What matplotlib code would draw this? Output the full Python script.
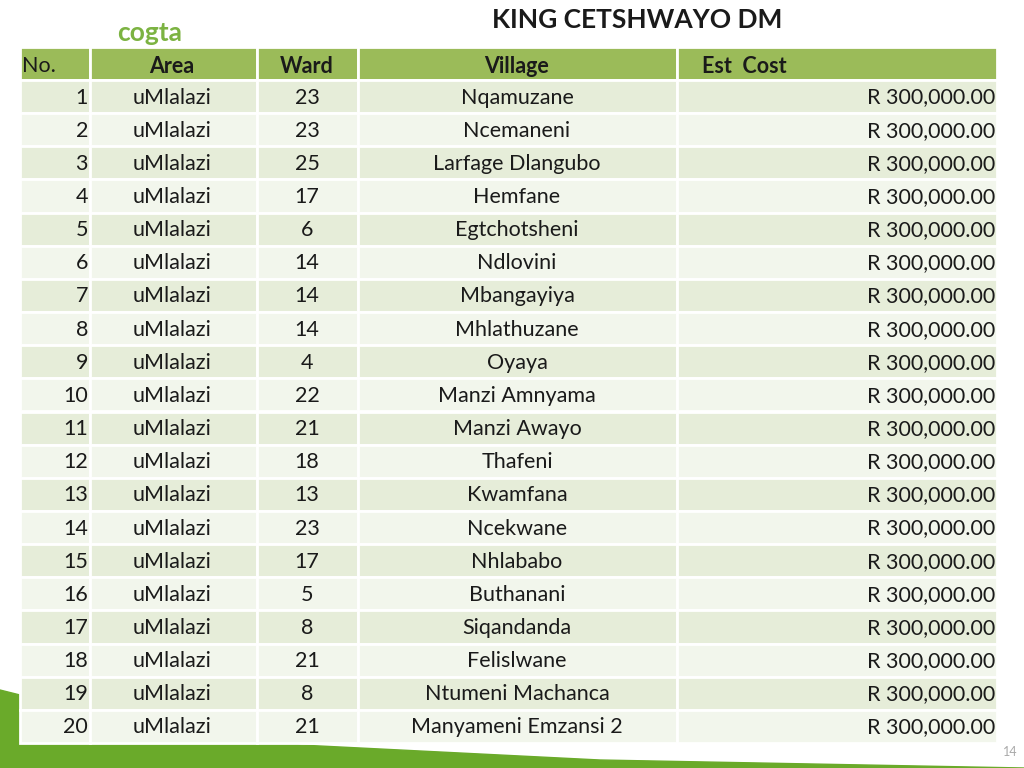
import matplotlib
matplotlib.use("Agg")
import matplotlib.pyplot as plt
from matplotlib.patches import Rectangle, Polygon

TITLE = "KING CETSHWAYO DM"
HEADERS = ["No.", "Area", "Ward", "Village", "Est  Cost"]
NUMS = list(range(1, 21))
AREAS = ["uMlalazi"] * 20
WARDS = [23, 23, 25, 17, 6, 14, 14, 14, 4, 22, 21, 18, 13, 23, 17, 5, 8, 21, 8, 21]
VILLAGES = ["Nqamuzane", "Ncemaneni", "Larfage Dlangubo", "Hemfane", "Egtchotsheni",
            "Ndlovini", "Mbangayiya", "Mhlathuzane", "Oyaya", "Manzi Amnyama",
            "Manzi Awayo", "Thafeni", "Kwamfana", "Ncekwane", "Nhlababo",
            "Buthanani", "Siqandanda", "Felislwane", "Ntumeni Machanca",
            "Manyameni Emzansi 2"]
COSTS = [300000.00] * 20

HDR = "#9BBB59"
ROW_A = "#E6EDD9"
ROW_B = "#F2F6EC"
TXT = "#1a1a1a"

plt.rcParams["font.family"] = "Lato"
fig = plt.figure(figsize=(10.24, 7.68), dpi=100)
ax = fig.add_axes([0, 0, 1, 1])
ax.set_xlim(0, 1024)
ax.set_ylim(768, 0)
ax.axis("off")

# bottom swoosh
ax.add_patch(Polygon([(0, 690), (120, 720), (300, 745), (600, 760), (1024, 768), (0, 768)],
                     color="#6aaa2a", zorder=0))

cols = [20, 90, 257, 358, 677, 997]
top, hh, rh = 47, 33, 33.15

for i in range(5):
    ax.add_patch(Rectangle((cols[i], top), cols[i + 1] - cols[i], hh, fc=HDR, ec="white", lw=2))
for r in range(len(NUMS)):
    y = top + hh + r * rh
    for i in range(5):
        ax.add_patch(Rectangle((cols[i], y), cols[i + 1] - cols[i], rh,
                               fc=ROW_A if r % 2 == 0 else ROW_B, ec="white", lw=2))

fs = 15.5
hy = top + hh / 2 + 3
ax.text(22, hy, HEADERS[0], ha="left", va="center", fontsize=fs, color=TXT)
ax.text(172, hy, HEADERS[1], ha="center", va="center", fontsize=fs, color=TXT, weight="bold")
ax.text(307, hy, HEADERS[2], ha="center", va="center", fontsize=fs, color=TXT, weight="bold")
ax.text(517, hy, HEADERS[3], ha="center", va="center", fontsize=fs, color=TXT, weight="bold")
ax.text(702, hy, HEADERS[4], ha="left", va="center", fontsize=fs, color=TXT, weight="bold")

for r, (n, a, w, v, c) in enumerate(zip(NUMS, AREAS, WARDS, VILLAGES, COSTS)):
    y = top + hh + r * rh + rh / 2 + 1
    ax.text(88, y, str(n), ha="right", va="center", fontsize=fs, color=TXT)
    ax.text(172, y, a, ha="center", va="center", fontsize=fs, color=TXT)
    ax.text(307, y, str(w), ha="center", va="center", fontsize=fs, color=TXT)
    ax.text(517, y, v, ha="center", va="center", fontsize=fs, color=TXT)
    ax.text(995, y, f"R {c:,.2f}", ha="right", va="center", fontsize=fs, color=TXT)

ax.text(637, 20, TITLE, ha="center", va="center", fontsize=19, weight="bold", color=TXT)
ax.text(150, 33, "cogta", ha="center", va="center", fontsize=19, weight="bold", color="#7cb342")
ax.text(1010, 752, "14", ha="center", va="center", fontsize=9, color="#aaaaaa")

fig.savefig("out.png", dpi=100)
